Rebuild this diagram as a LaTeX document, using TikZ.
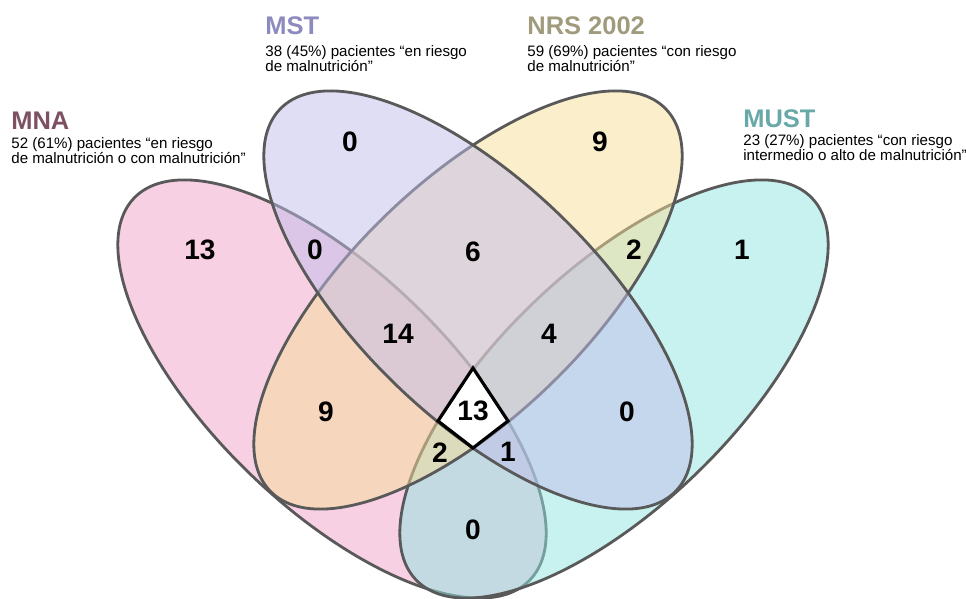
\documentclass[tikz,border=0pt]{standalone}
\usepackage{fontspec}
\setmainfont{Liberation Sans}
\definecolor{mnafill}{RGB}{241,161,201}
\definecolor{mstfill}{RGB}{193,189,235}
\definecolor{nrsfill}{RGB}{245,221,151}
\definecolor{mustfill}{RGB}{145,229,225}
\definecolor{mnatext}{RGB}{125,80,100}
\definecolor{msttext}{RGB}{140,138,190}
\definecolor{nrstext}{RGB}{160,155,125}
\definecolor{musttext}{RGB}{105,168,168}
\begin{document}
\begin{tikzpicture}[x=0.02cm,y=0.02cm,
	venn/.style={draw=black!65,line width=1.6pt,fill opacity=0.5},
	regioncount/.style={font=\fontsize{16}{16}\selectfont\bfseries},
	setname/.style={font=\fontsize{14.5}{14.5}\selectfont\bfseries,anchor=base west,inner sep=0pt},
	setinfo/.style={font=\fontsize{8.6}{8.7}\selectfont,align=left,anchor=north west,inner sep=0pt}]
	\useasboundingbox (0,0) rectangle (966,598);
	\draw [venn,fill=mnafill,rotate around={-44:(332,209)}] (332,209) ellipse [x radius=275,y radius=118];
	\draw [venn,fill=mustfill,rotate around={44:(614,209)}] (614,209) ellipse [x radius=275,y radius=118];
	\draw [venn,fill=nrsfill,rotate around={44:(468,298)}] (468,298) ellipse [x radius=275,y radius=118];
	\draw [venn,fill=mstfill,rotate around={-44:(478,298)}] (478,298) ellipse [x radius=275,y radius=118];
	\draw [line width=1.8pt,fill=white] (473,230) -- (508,177) -- (473,150) -- (438,177) -- cycle;
	\node [setname,text=mnatext] (mna) at (11,468) {MNA};
	\node [setinfo] (mnainfo) at (11,461) {52 (61\%) pacientes “en riesgo\\de malnutrición o con malnutrición”};
	\node [setname,text=msttext] (mst) at (265,563) {MST};
	\node [setinfo] (mstinfo) at (265,553) {38 (45\%) pacientes “en riesgo\\de malnutrición”};
	\node [setname,text=nrstext] (nrs) at (527,563) {NRS 2002};
	\node [setinfo] (nrsinfo) at (527,553) {59 (69\%) pacientes “con riesgo\\de malnutrición”};
	\node [setname,text=musttext] (must) at (743,470) {MUST};
	\node [setinfo] (mustinfo) at (743,464) {23 (27\%) pacientes “con riesgo\\intermedio o alto de malnutrición”};
	\node [regioncount] (mnaonly) at (200,348) {13};
	\node [regioncount] (mstonly) at (350,456) {0};
	\node [regioncount] (nrsonly) at (600,456) {9};
	\node [regioncount] (mustonly) at (742,348) {1};
	\node [regioncount] (mnamst) at (315,348) {0};
	\node [regioncount] (mstnrs) at (473,346) {6};
	\node [regioncount] (nrsmust) at (634,348) {2};
	\node [regioncount] (mnamstnrs) at (398,264) {14};
	\node [regioncount] (mstnrsmust) at (549,264) {4};
	\node [regioncount] (mnanrs) at (326,186) {9};
	\node [regioncount] (all) at (473,187) {13};
	\node [regioncount] (mstmust) at (627,186) {0};
	\node [regioncount] (mnanrsmust) at (440,145) {2};
	\node [regioncount] (mnamstmust) at (508,146) {1};
	\node [regioncount] (mnamust) at (473,68) {0};
\end{tikzpicture}
\end{document}
